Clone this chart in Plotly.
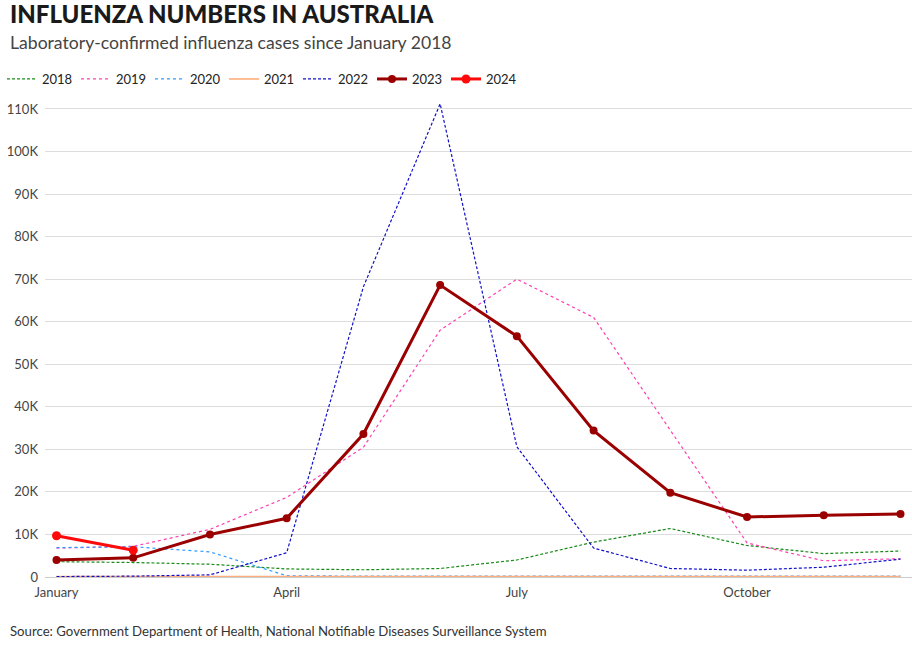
import plotly.graph_objects as go

# Dados (casos por mês, em milhares)
meses = ["January", "February", "March", "April", "May", "June",
         "July", "August", "September", "October", "November", "December"]

casos_2018 = [3.6, 3.4, 3.0, 1.9, 1.7, 2.0, 4.0, 8.2, 11.4, 7.4, 5.5, 6.1]
casos_2019 = [6.8, 7.2, 11.2, 18.7, 30.5, 58.0, 70.0, 61.0, 34.5, 8.0, 3.8, 4.3]
casos_2020 = [6.9, 7.1, 5.9, 0.3, 0.2, 0.2, 0.2, 0.2, 0.2, 0.2, 0.2, 0.2]
casos_2021 = [0.1, 0.1, 0.1, 0.1, 0.1, 0.1, 0.1, 0.1, 0.1, 0.1, 0.1, 0.1]
casos_2022 = [0.1, 0.2, 0.5, 5.7, 68.2, 111.2, 30.6, 6.8, 2.0, 1.6, 2.3, 4.2]
casos_2023 = [4.0, 4.5, 10.0, 13.8, 33.6, 68.6, 56.6, 34.4, 19.8, 14.1, 14.5, 14.8]
casos_2024 = [9.7, 6.3]

ticks_y = [0, 10, 20, 30, 40, 50, 60, 70, 80, 90, 100, 110]
rotulos_y = ["0"] + [f"{v}K" for v in ticks_y[1:]]
ticks_x = ["January", "April", "July", "October"]

FONTE = "Lato"
COR_TEXTO = "#333333"

fig = go.Figure()

# Anos anteriores: linhas finas tracejadas
tracejadas = [
    ("2018", casos_2018, "#1a8a1a", "3px,2px"),
    ("2019", casos_2019, "#ff3fb0", "3px,3px"),
    ("2020", casos_2020, "#2f9bff", "3px,3px"),
    ("2021", casos_2021, "#ffad7a", "solid"),
    ("2022", casos_2022, "#1010c8", "3px,2px"),
]
for nome, valores, cor, traco in tracejadas:
    fig.add_trace(go.Scatter(
        x=meses, y=[v * 1000 for v in valores], name=nome, mode="lines",
        line=dict(color=cor, width=1.2 if traco != "solid" else 1.6, dash=traco),
    ))

# 2023 e 2024 em destaque
fig.add_trace(go.Scatter(
    x=meses, y=[v * 1000 for v in casos_2023], name="2023", mode="lines+markers",
    line=dict(color="#9b0000", width=3), marker=dict(size=8, color="#9b0000"),
))
fig.add_trace(go.Scatter(
    x=meses[:len(casos_2024)], y=[v * 1000 for v in casos_2024], name="2024",
    mode="lines+markers",
    line=dict(color="#ff0a0a", width=3), marker=dict(size=9, color="#ff0a0a"),
))

L, T, B = 45, 100, 68
PW, PH = 912 - L, 645 - T - B

fig.update_layout(
    width=912, height=645,
    margin=dict(l=L, r=0, t=T, b=B),
    plot_bgcolor="white", paper_bgcolor="white",
    font=dict(family=FONTE, size=13, color=COR_TEXTO),
    showlegend=True,
    legend=dict(orientation="h", x=-43 / PW, xanchor="left", y=1 + (T - 79) / PH,
                yanchor="middle",
                font=dict(size=13, color="#222"), itemwidth=30,
                entrywidth=29, entrywidthmode="pixels",
                traceorder="normal", bgcolor="rgba(0,0,0,0)"),
    xaxis=dict(
        type="category", range=[-0.15, 11.15],
        tickmode="array", tickvals=ticks_x, ticktext=ticks_x,
        showgrid=False, showline=False, zeroline=False, ticks="",
        ticklabelstandoff=6,
        tickfont=dict(size=13, color="#444"),
    ),
    yaxis=dict(
        range=[0, 112100], tickmode="array",
        tickvals=[v * 1000 for v in ticks_y], ticktext=rotulos_y,
        showgrid=True, gridcolor="#dddddd", gridwidth=1,
        zeroline=True, zerolinecolor="#cccccc", zerolinewidth=1,
        showline=False, ticks="", ticklabelstandoff=6,
        tickfont=dict(size=13, color="#444"),
    ),
    annotations=[
        dict(text="INFLUENZA NUMBERS IN AUSTRALIA", xref="paper", yref="paper",
             x=-37 / PW, y=1 + (T - 13) / PH, xanchor="left", yanchor="middle",
             showarrow=False,
             font=dict(family=FONTE, size=24, color="#1a1a1a", weight=900)),
        dict(text="Laboratory-confirmed influenza cases since January 2018",
             xref="paper", yref="paper", x=-37 / PW, y=1 + (T - 42) / PH,
             xanchor="left", yanchor="middle", showarrow=False,
             font=dict(family=FONTE, size=17.6, color="#444")),
        dict(text="Source: Government Department of Health, National Notifiable Diseases Surveillance System",
             xref="paper", yref="paper", x=-37 / PW, y=-(631 - (645 - B)) / PH,
             xanchor="left", yanchor="middle", showarrow=False,
             font=dict(family=FONTE, size=13.2, color="#333")),
    ],
)

# sem margem no body, para a figura ocupar a janela inteira
fig.write_html("out.html", config={"displayModeBar": False},
               post_script="document.body.style.margin='0';")
